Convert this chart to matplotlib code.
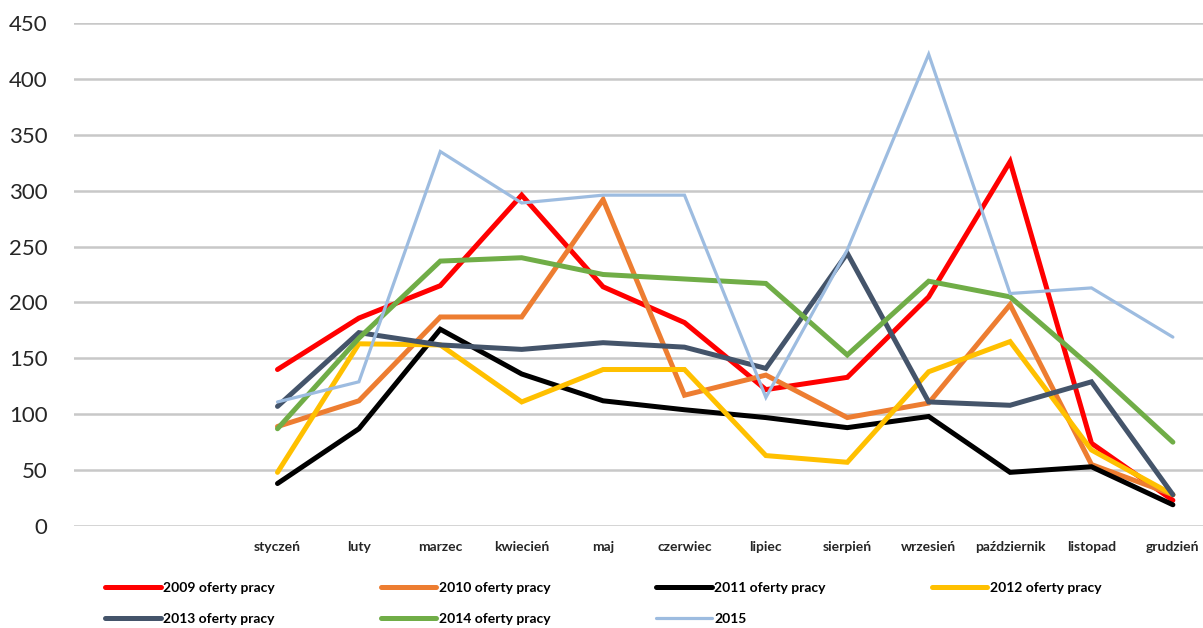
import matplotlib.pyplot as plt
import numpy as np

plt.rcParams['font.family'] = ['Lato', 'DejaVu Sans']

months = ['styczeń', 'luty', 'marzec', 'kwiecień', 'maj', 'czerwiec', 'lipiec',
          'sierpień', 'wrzesień', 'październik', 'listopad', 'grudzień']

y2009 = [140, 186, 215, 296, 214, 182, 122, 133, 205, 326, 74, 23]
y2010 = [89, 112, 187, 187, 292, 117, 135, 97, 110, 198, 55, 28]
y2011 = [38, 87, 176, 136, 112, 104, 97, 88, 98, 48, 53, 19]
y2012 = [48, 163, 162, 111, 140, 140, 63, 57, 138, 165, 68, 28]
y2013 = [107, 173, 162, 158, 164, 160, 141, 244, 111, 108, 129, 28]
y2014 = [87, 168, 237, 240, 225, 221, 217, 153, 219, 205, 142, 75]
y2015 = [111, 129, 335, 289, 296, 296, 115, 247, 422, 208, 213, 169]

labels = ['2009 oferty pracy', '2010 oferty pracy', '2011 oferty pracy',
          '2012 oferty pracy', '2013 oferty pracy', '2014 oferty pracy', '2015']
series = [y2009, y2010, y2011, y2012, y2013, y2014, y2015]
colors = ['#FF0000', '#ED7D31', '#000000', '#FFC000', '#44546A', '#70AD47', '#9DBCE0']
widths = [3.6, 3.6, 3.6, 3.6, 3.6, 3.6, 2.3]

fig = plt.figure(figsize=(12.03, 6.28), dpi=100)
ax = fig.add_axes([74 / 1203, 1 - 526 / 628, 1 - 74 / 1203, 503 / 628])

x = np.arange(len(months))
handles = []
for s, lab, c, w in zip(series, labels, colors, widths):
    h, = ax.plot(x, s, color=c, lw=w, label=lab,
                 solid_capstyle='round', solid_joinstyle='miter')
    handles.append(h)

ax.set_xlim(-2.5, 11.37)
ax.set_ylim(0, 450)
ax.set_yticks(np.arange(0, 451, 50))
ax.set_xticks(x)
ax.set_xticklabels(months, fontsize=10, fontweight='bold', color='#262626')
ax.tick_params(axis='y', labelsize=16, colors='#262626', length=0, pad=19)
ax.tick_params(axis='x', length=0, pad=11)
ax.grid(axis='y', color='#C8C8C8', lw=1.8)
ax.set_axisbelow(True)
for sp in ax.spines.values():
    sp.set_visible(False)

# legend rows: 2009..2012 on top, 2013..2015 below
order = [0, 4, 1, 5, 2, 6, 3]
fig.legend([handles[i] for i in order], [labels[i] for i in order],
           ncol=4, loc='upper left', bbox_to_anchor=(105 / 1203, 1 - 582 / 628),
           frameon=False, prop={'size': 10, 'weight': 'bold'},
           handlelength=4.0, handletextpad=0.2, columnspacing=7.6,
           labelspacing=1.35, borderaxespad=0, borderpad=0)

fig.savefig('out.png', dpi=100)
